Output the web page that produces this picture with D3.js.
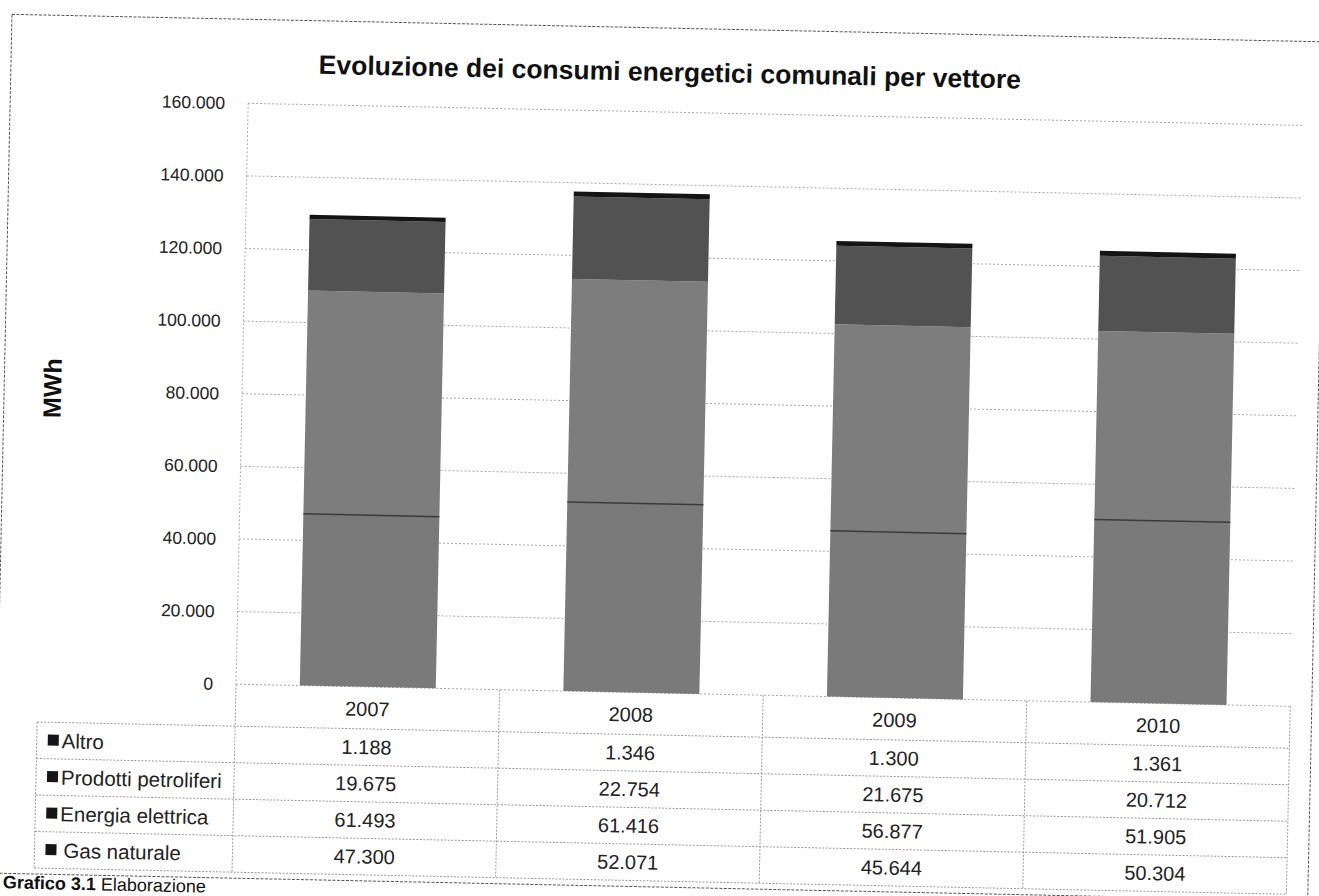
<!DOCTYPE html>
<html><head><meta charset="utf-8">
<script src="https://cdn.jsdelivr.net/npm/d3@7"></script>
<style>
body{margin:0;background:#fff;}
svg{display:block;}
text{font-family:"Liberation Sans", Arial, sans-serif;}
</style>
</head><body>
<svg id="c" width="1319" height="896"></svg>
<script>
// ---- data ----
const years = ["2007", "2008", "2009", "2010"];
const seriesNames = ["Altro", "Prodotti petroliferi", "Energia elettrica", "Gas naturale"]; // table order (top to bottom)
const altro = [1188, 1346, 1300, 1361];
const prodotti = [19675, 22754, 21675, 20712];
const energia = [61493, 61416, 56877, 51905];
const gas = [47300, 52071, 45644, 50304];
const yTicks = [0, 20000, 40000, 60000, 80000, 100000, 120000, 140000, 160000];
const titleText = "Evoluzione dei consumi energetici comunali per vettore";
const yLabel = "MWh";

// ---- setup ----
const it = d3.formatLocale({decimal: ",", thousands: ".", grouping: [3], currency: ["€", ""]});
const fmt = it.format(",d");
const valuesBySeries = {"Altro": altro, "Prodotti petroliferi": prodotti, "Energia elettrica": energia, "Gas naturale": gas};
const colors = {"Gas naturale": "#7a7a7a", "Energia elettrica": "#7d7d7d", "Prodotti petroliferi": "#525252", "Altro": "#141414"};
const stackKeys = ["Gas naturale", "Energia elettrica", "Prodotti petroliferi", "Altro"];
const table = years.map((yr, i) => {
  const o = {year: yr};
  seriesNames.forEach(s => o[s] = valuesBySeries[s][i]);
  return o;
});

const svg = d3.select("#c");
const g = svg.append("g").attr("transform", "rotate(1.2,660,450)");

const plotL = 241, plotR = 1295.5, plotT = 112, plotB = 693;
const x = d3.scaleBand().domain(years).range([plotL, plotR]).paddingInner(0.484).paddingOuter(0.242);
const y = d3.scaleLinear().domain([0, 160000]).range([plotB, plotT]);

// outer frame
g.append("rect").attr("x", 3).attr("y", 28).attr("width", 1314).attr("height", 859)
  .attr("fill", "none").attr("stroke", "#555").attr("stroke-width", 1).attr("stroke-dasharray", "3,1.5");

// title
g.append("text").attr("x", 662).attr("y", 72).attr("text-anchor", "middle").attr("dominant-baseline", "central")
  .attr("font-size", 26.5).attr("font-weight", "bold").attr("fill", "#111").text(titleText);

// y label
g.append("text").attr("transform", "translate(51,401) rotate(-90)").attr("text-anchor", "middle")
  .attr("dominant-baseline", "central").attr("font-size", 25).attr("font-weight", "bold").attr("fill", "#111").text(yLabel);

// gridlines
g.append("g").selectAll("line").data(yTicks).join("line")
  .attr("x1", plotL).attr("x2", plotR).attr("y1", d => y(d)).attr("y2", d => y(d))
  .attr("stroke", "#a8a8a8").attr("stroke-width", 1).attr("stroke-dasharray", "2,2");
g.append("line").attr("x1", plotL).attr("x2", plotL).attr("y1", plotT).attr("y2", plotB)
  .attr("stroke", "#a8a8a8").attr("stroke-dasharray", "2,2");

// y axis labels
const yAxis = g.append("g").attr("transform", `translate(${plotL},0)`)
  .call(d3.axisLeft(y).tickValues(yTicks).tickSize(0).tickPadding(23).tickFormat(fmt));
yAxis.select(".domain").remove();
yAxis.selectAll("text").attr("font-size", 17.5).attr("fill", "#222").style("font-family", '"Liberation Sans", Arial, sans-serif');

// bars
const stacked = d3.stack().keys(stackKeys)(table);
g.append("g").selectAll("g").data(stacked).join("g").attr("fill", d => colors[d.key])
  .selectAll("rect").data(d => d).join("rect")
  .attr("x", d => x(d.data.year)).attr("width", x.bandwidth())
  .attr("y", d => y(d[1])).attr("height", d => y(d[0]) - y(d[1]));
// thin dark boundary on top of the gas segment
g.append("g").selectAll("line").data(stacked[0]).join("line")
  .attr("x1", d => x(d.data.year)).attr("x2", d => x(d.data.year) + x.bandwidth())
  .attr("y1", d => y(d[1])).attr("y2", d => y(d[1]))
  .attr("stroke", "#3a3a3a").attr("stroke-width", 1.5);

// data table
const headerB = 735, rowH = 36.5;
const rowTop = i => headerB + i * rowH;
const tableBottom = rowTop(seriesNames.length);
const step = x.step();
const tg = g.append("g");
const lineStyle = sel => sel.attr("stroke", "#9a9a9a").attr("stroke-width", 1).attr("stroke-dasharray", "2,1.5");
// horizontal lines
tg.selectAll("line.h").data(d3.range(seriesNames.length + 1)).join("line").attr("class", "h")
  .attr("x1", 43).attr("x2", plotR).attr("y1", i => rowTop(i)).attr("y2", i => rowTop(i)).call(lineStyle);
// vertical lines at category boundaries
tg.selectAll("line.v").data(d3.range(years.length + 1)).join("line").attr("class", "v")
  .attr("x1", i => plotL + i * step).attr("x2", i => plotL + i * step)
  .attr("y1", plotB).attr("y2", tableBottom).call(lineStyle);
tg.append("line").attr("x1", 43).attr("x2", 43).attr("y1", headerB).attr("y2", tableBottom).call(lineStyle);

// header years
tg.selectAll("text.yr").data(years).join("text").attr("class", "yr")
  .attr("x", d => x(d) + x.bandwidth() / 2).attr("y", (plotB + headerB) / 2 + 1)
  .attr("text-anchor", "middle").attr("dominant-baseline", "central")
  .attr("font-size", 20).attr("fill", "#222").text(d => d);

// rows
seriesNames.forEach((s, ri) => {
  const cy = rowTop(ri) + rowH / 2;
  tg.append("rect").attr("x", 54).attr("y", cy - 6).attr("width", 11).attr("height", 11).attr("fill", "#151515");
  tg.append("text").attr("x", s === "Gas naturale" ? 72 : 68).attr("y", cy).attr("dominant-baseline", "central")
    .attr("font-size", 20.5).attr("fill", "#222").text(s);
  tg.selectAll(null).data(valuesBySeries[s]).join("text")
    .attr("x", (d, i) => x(years[i]) + x.bandwidth() / 2).attr("y", cy)
    .attr("text-anchor", "middle").attr("dominant-baseline", "central")
    .attr("font-size", 20).attr("fill", "#222").text(d => fmt(d));
});

// caption (at the page edge)
const cap = g.append("text").attr("x", 12).attr("y", 902).attr("font-size", 18).attr("fill", "#111");
cap.append("tspan").attr("font-weight", "bold").text("Grafico 3.1 ");
cap.append("tspan").text("Elaborazione");
</script>
</body></html>
